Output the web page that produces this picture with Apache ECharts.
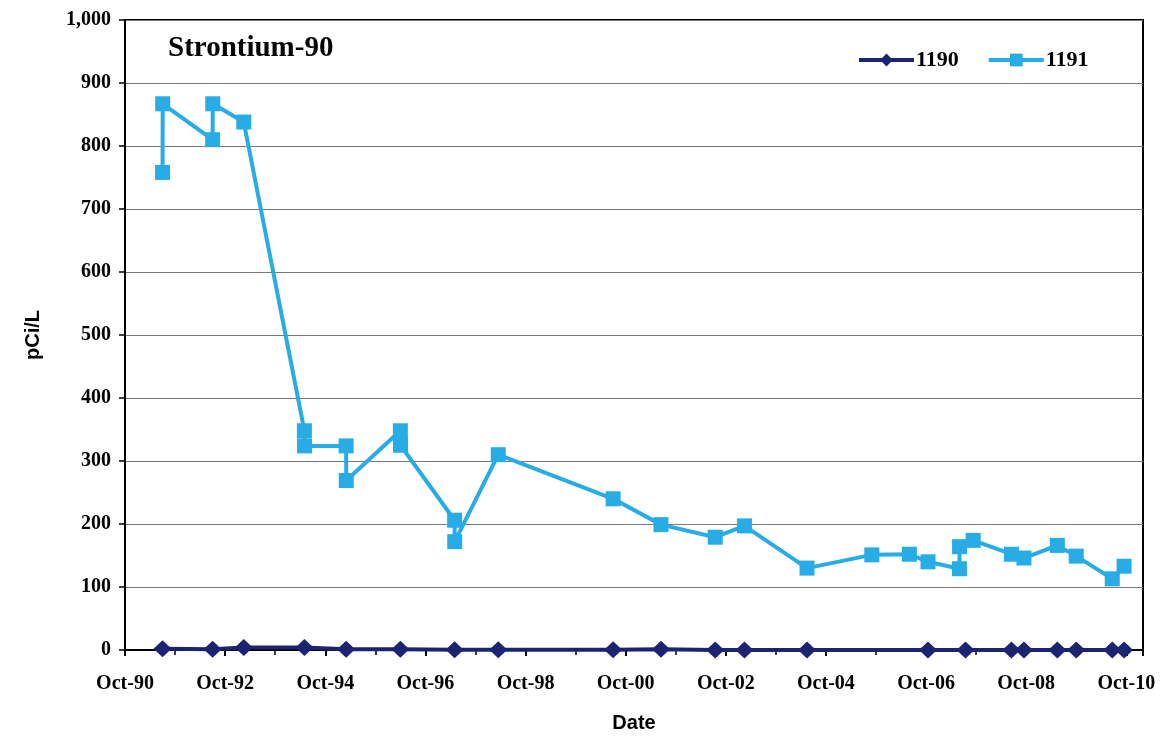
<!DOCTYPE html>
<html>
<head>
<meta charset="utf-8">
<title>Strontium-90</title>
<script src="https://cdn.jsdelivr.net/npm/echarts@6/dist/echarts.min.js"></script>
<style>
  html, body { margin: 0; padding: 0; background: #ffffff; }
  #chart { width: 1165px; height: 738px; }
</style>
</head>
<body>
<div id="chart"></div>
<script>
// Well 1191 sample dates and Sr-90 activity (pCi/L)
const dates1191 = [
  '1991-07-01', '1991-07-02', '1992-07-01', '1992-07-02', '1993-02-15',
  '1994-05-01', '1994-05-02', '1995-03-01', '1995-03-02', '1996-04-01',
  '1996-04-02', '1997-05-01', '1997-05-02', '1998-03-15', '2000-07-01',
  '2001-06-15', '2002-07-15', '2003-02-15', '2004-05-15', '2005-09-01',
  '2006-06-01', '2006-10-15', '2007-06-01', '2007-06-02', '2007-09-10',
  '2008-06-15', '2008-09-15', '2009-05-15', '2009-10-01', '2010-06-20',
  '2010-09-15'
];
const values1191 = [
  758, 867, 810, 867, 838,
  348, 324, 324, 269, 348,
  325, 206, 172, 310, 240,
  199, 179, 197, 130, 151,
  152, 140, 129, 164, 174,
  152, 146, 166, 149, 113,
  133
];

// Well 1190 sample dates and Sr-90 activity (pCi/L)
const dates1190 = [
  '1991-07-01', '1992-07-01', '1993-02-15', '1994-05-01', '1995-03-01',
  '1996-04-01', '1997-05-01', '1998-03-15', '2000-07-01', '2001-06-15',
  '2002-07-15', '2003-02-15', '2004-05-15', '2006-10-15', '2007-07-15',
  '2008-06-15', '2008-09-15', '2009-05-15', '2009-10-01', '2010-06-20',
  '2010-09-15'
];
const values1190 = [
  2, 1, 4, 4, 1,
  1, 0.5, 0.5, 0.5, 1,
  0, 0, 0, 0, 0,
  0, 0, 0, 0, 0,
  0
];

// Y axis tick values
const yTicks = [0, 100, 200, 300, 400, 500, 600, 700, 800, 900, 1000];

// X axis: months counted from October 1990
const START_YEAR = 1990;
const START_MONTH = 10;
function monthsFromStart(s) {
  const [y, m, d] = s.split('-').map(Number);
  return (y - START_YEAR) * 12 + (m - START_MONTH) + (d - 1) / 30;
}
function pairs(ds, vs) {
  return ds.map((d, i) => [monthsFromStart(d), vs[i]]);
}
function monthLabel(v) {
  if (Math.abs(v % 12) > 1e-6) return '';
  const yr = START_YEAR + v / 12;
  return 'Oct-' + String(yr % 100).padStart(2, '0');
}

const serif = 'Liberation Serif, Times New Roman, serif';
const sans = 'Liberation Sans, Arial, sans-serif';
const NAVY = '#1b2470';
const SKY = '#27ace6';

const chart = echarts.init(document.getElementById('chart'), null, { renderer: 'canvas' });
chart.setOption({
  backgroundColor: '#ffffff',
  animation: false,
  title: {
    text: 'Strontium-90',
    left: 163,
    top: 29,
    textStyle: { fontFamily: serif, fontWeight: 'bold', fontSize: 29, color: '#000' }
  },
  legend: {
    left: 852,
    top: 44,
    itemWidth: 55,
    itemHeight: 16,
    itemGap: 28,
    lineStyle: { width: 4 },
    textStyle: { fontFamily: serif, fontWeight: 'bold', fontSize: 22, color: '#000', padding: [0, 0, 0, -3] },
    data: ['1190', '1191']
  },
  grid: {
    left: 125, right: 22, top: 20, bottom: 88,
    show: true, borderColor: '#000', borderWidth: 2, backgroundColor: '#fff'
  },
  xAxis: {
    type: 'value',
    min: 0,
    max: 244,
    interval: 24,
    name: 'Date',
    nameLocation: 'middle',
    nameGap: 63,
    nameTextStyle: { fontFamily: sans, fontWeight: 'bold', fontSize: 20, color: '#000' },
    axisLine: { show: true, lineStyle: { color: '#000', width: 2 } },
    axisTick: { show: true, length: 6, lineStyle: { color: '#000', width: 2 } },
    minorTick: { show: true, splitNumber: 2, length: 5, lineStyle: { color: '#000', width: 1.5 } },
    splitLine: { show: false },
    axisLabel: {
      margin: 24,
      showMaxLabel: false,
      fontFamily: serif, fontWeight: 'bold', fontSize: 20, color: '#000',
      formatter: monthLabel
    }
  },
  yAxis: {
    type: 'value',
    min: yTicks[0],
    max: yTicks[yTicks.length - 1],
    interval: yTicks[1] - yTicks[0],
    name: 'pCi/L',
    nameLocation: 'middle',
    nameGap: 82,
    nameTextStyle: { fontFamily: sans, fontWeight: 'bold', fontSize: 20, color: '#000' },
    axisLine: { show: true, lineStyle: { color: '#000', width: 2 } },
    axisTick: { show: true, length: 6, lineStyle: { color: '#000', width: 1.5 } },
    splitLine: { show: true, lineStyle: { color: '#7a7a7a', width: 1 } },
    axisLabel: {
      margin: 14,
      fontFamily: serif, fontWeight: 'bold', fontSize: 20, color: '#000',
      formatter: v => v.toLocaleString('en-US')
    }
  },
  series: [
    {
      name: '1190',
      type: 'line',
      data: pairs(dates1190, values1190),
      symbol: 'diamond',
      symbolSize: [18, 17],
      clip: false,
      z: 4,
      lineStyle: { color: NAVY, width: 4 },
      itemStyle: { color: NAVY }
    },
    {
      name: '1191',
      type: 'line',
      data: pairs(dates1191, values1191),
      symbol: 'rect',
      symbolSize: 15,
      clip: false,
      z: 3,
      lineStyle: { color: SKY, width: 4 },
      itemStyle: { color: SKY }
    }
  ]
});
</script>
</body>
</html>
